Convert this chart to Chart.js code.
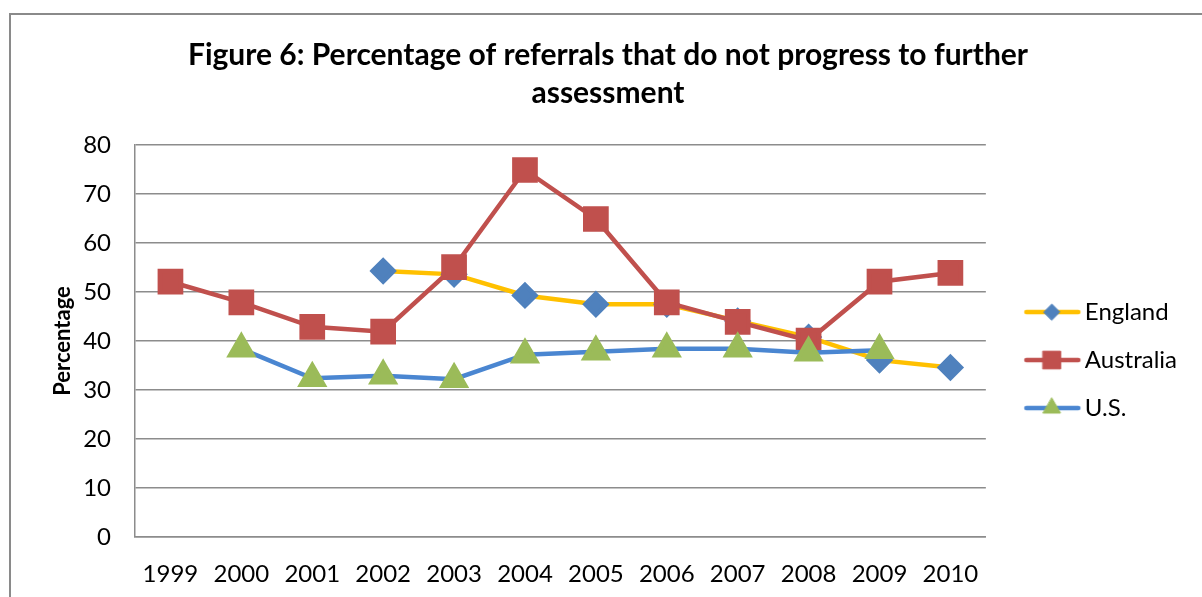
<!DOCTYPE html>
<html>
<head>
<meta charset="utf-8">
<script src="https://cdn.jsdelivr.net/npm/chart.js@4.4.1/dist/chart.umd.min.js"></script>
<style>
  html, body { margin: 0; padding: 0; background: #ffffff; }
  #wrap { position: relative; width: 1202px; height: 597px; }
</style>
</head>
<body>
<div id="wrap"><canvas id="c" width="1202" height="597"></canvas></div>
<script>
const years = ['1999','2000','2001','2002','2003','2004','2005','2006','2007','2008','2009','2010'];
const england = [null, null, null, 54.3, 53.6, 49.3, 47.5, 47.5, 44.1, 40.8, 36.1, 34.6];
const australia = [52.1, 47.9, 42.9, 41.9, 55.1, 74.9, 64.9, 47.9, 43.9, 40.1, 52.1, 53.9];
const us = [null, 38.4, 32.4, 32.9, 32.2, 37.2, 37.8, 38.4, 38.4, 37.6, 38.1, null];
const yTicks = [0, 10, 20, 30, 40, 50, 60, 70, 80];
const titleLines = ['Figure 6: Percentage of referrals that do not progress to further', 'assessment'];
const seriesNames = ['England', 'Australia', 'U.S.'];

const FONT = 'Lato';

function legendIcon(lineColor, markColor, style, radius) {
  const cv = document.createElement('canvas');
  cv.width = 140; cv.height = 30;
  const g = cv.getContext('2d');
  g.strokeStyle = lineColor; g.lineWidth = 4.5; g.lineCap = 'round';
  g.beginPath(); g.moveTo(55, 15); g.lineTo(107, 15); g.stroke();
  g.fillStyle = markColor; g.strokeStyle = markColor; g.lineWidth = 1;
  Chart.helpers.drawPoint(g, {pointStyle: style, radius: radius, rotation: 0, borderWidth: 1}, 80.5, 15);
  return cv;
}

const frame = {
  id: 'frame',
  beforeDraw(chart) {
    const ctx = chart.ctx;
    ctx.save();
    ctx.fillStyle = '#ffffff';
    ctx.fillRect(0, 0, chart.width, chart.height);
    ctx.strokeStyle = '#8a8a8a';
    ctx.lineWidth = 2;
    ctx.strokeRect(10, 14, 1400, 800);
    ctx.restore();
  }
};

const icons = [
  legendIcon('#FFC000', '#4F81BD', 'rectRot', 8),
  legendIcon('#C0504D', '#C0504D', 'rect', 12.5),
  legendIcon('#4A86D1', '#9BBB59', 'triangle', 10)
];

new Chart(document.getElementById('c'), {
  type: 'line',
  data: {
    labels: years,
    datasets: [
      { label: seriesNames[0], data: england, borderColor: '#FFC000', backgroundColor: '#4F81BD',
        pointBackgroundColor: '#4F81BD', pointBorderColor: '#4F81BD', pointStyle: 'rectRot',
        pointRadius: 10.5, pointHoverRadius: 10.5, borderWidth: 4.5, order: 3, tension: 0 },
      { label: seriesNames[1], data: australia, borderColor: '#C0504D', backgroundColor: '#C0504D',
        pointBackgroundColor: '#C0504D', pointBorderColor: '#C0504D', pointStyle: 'rect',
        pointRadius: 15, pointHoverRadius: 15, borderWidth: 4.5, order: 2, tension: 0 },
      { label: seriesNames[2], data: us, borderColor: '#4A86D1', backgroundColor: '#9BBB59',
        pointBackgroundColor: '#9BBB59', pointBorderColor: '#9BBB59', pointStyle: 'triangle',
        pointRadius: 13, pointHoverRadius: 13, borderWidth: 4.5, order: 1, tension: 0 }
    ]
  },
  options: {
    responsive: false,
    animation: false,
    events: [],
    layout: { padding: { left: 29, right: 15, top: 0, bottom: 0 } },
    plugins: {
      title: {
        display: true,
        text: titleLines,
        color: '#000000',
        font: { family: FONT, size: 30, weight: 'bold', lineHeight: 1.267 },
        padding: { top: 36, bottom: 33 }
      },
      legend: {
        display: true,
        position: 'right',
        align: 'center',
        fullSize: false,
        title: { display: true, text: '', font: { size: 10, lineHeight: 1 }, padding: 14 },
        labels: {
          usePointStyle: true,
          pointStyleWidth: 63,
          padding: 24,
          color: '#000000',
          font: { family: FONT, size: 24 },
          sort: (a, b) => a.datasetIndex - b.datasetIndex,
          generateLabels(chart) {
            const items = Chart.defaults.plugins.legend.labels.generateLabels(chart);
            items.forEach(it => { it.pointStyle = icons[it.datasetIndex]; it.rotation = 0; });
            return items;
          }
        }
      },
      tooltip: { enabled: false }
    },
    scales: {
      x: {
        offset: true,
        grid: { display: false, drawTicks: false, offset: true },
        border: { display: true, color: '#8c8c8c', width: 1.5 },
        ticks: { color: '#000000', font: { family: FONT, size: 24 }, padding: 23, maxRotation: 0, autoSkip: false },
        afterFit(scale) { scale.height = 60; }
      },
      y: {
        min: 0, max: 80,
        afterBuildTicks(scale) { scale.ticks = yTicks.map(v => ({ value: v })); },
        grid: { color: '#8c8c8c', lineWidth: 1.5, drawTicks: false },
        border: { display: true, color: '#8c8c8c', width: 1.5 },
        ticks: { color: '#000000', font: { family: FONT, size: 24 }, padding: 24 },
        title: {
          display: true, text: 'Percentage', color: '#000000',
          font: { family: FONT, size: 22, weight: 'bold', lineHeight: 1.2 },
          padding: { top: 21, bottom: 4 }
        },
        afterFit(scale) { scale.width = 106; }
      }
    }
  },
  plugins: [frame]
});
</script>
</body>
</html>
